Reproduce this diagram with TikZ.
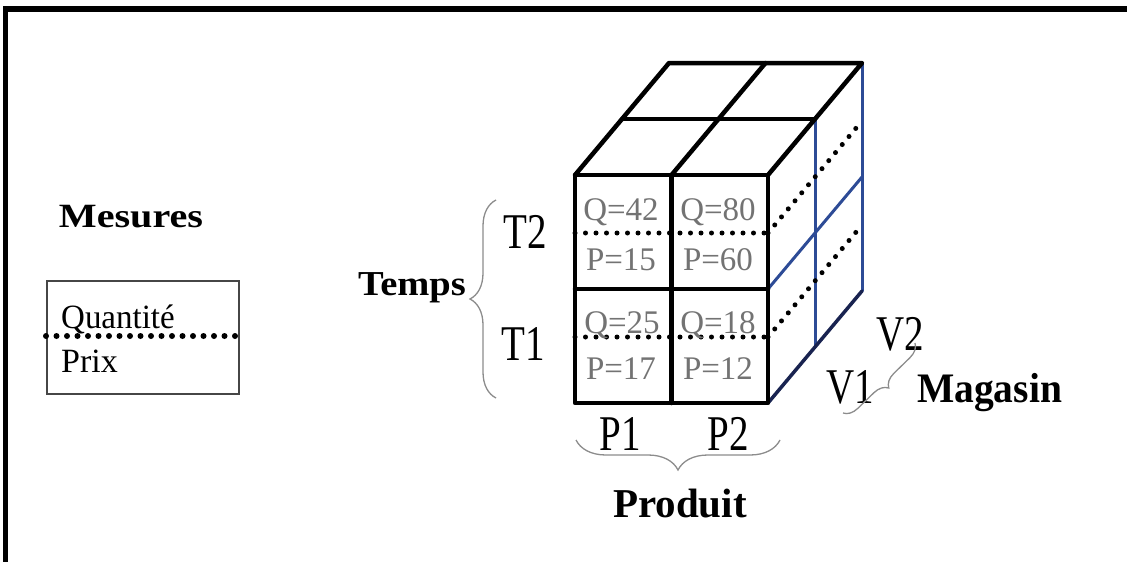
\documentclass[tikz,border=0pt]{standalone}
\usepackage{fontspec}
\setmainfont{Liberation Serif}
\usetikzlibrary{decorations.pathreplacing}
\definecolor{cellgray}{RGB}{115,115,115}
\definecolor{faceblue}{RGB}{45,75,150}
\definecolor{edgenavy}{RGB}{25,35,80}
\definecolor{bracegray}{RGB}{140,140,140}
\definecolor{boxgray}{RGB}{70,70,70}
\begin{document}
\begin{tikzpicture}[x=1pt,y=-1pt,
  lbl/.style={anchor=base, inner sep=0pt},
  heading/.style={lbl, font=\bfseries\fontsize{#1}{#1}\selectfont},
  plain/.style={lbl, font=\fontsize{#1}{#1}\selectfont},
  cell/.style={lbl, text=cellgray, font=\fontsize{33}{33}\selectfont},
  axislbl/.style={lbl, font=\fontsize{50}{50}\selectfont, xscale=0.78},
  thickedge/.style={line width=4.5pt, line join=round, line cap=round},
  blueedge/.style={line width=3pt, draw=faceblue, line cap=round},
  dotline/.style={line width=#1, dash pattern=on 0pt off 10.5pt, line cap=round},
  dotline/.default=5pt,
  bracepath/.style={draw=bracegray, line width=1.3pt, decorate,
     decoration={brace, amplitude=#1}},
]
\useasboundingbox (0,0) rectangle (1127,562);
% frame (top and left only)
\draw[line width=6pt] (3,8.5) -- (1127,8.5);
\draw[line width=5pt] (5.5,6) -- (5.5,562);

% --- Mesures
\node[heading=34, xscale=1.18] (mes) at (131,227) {Mesures};
\node[draw=boxgray, line width=1.5pt, minimum width=192pt, minimum height=113pt, inner sep=0pt, anchor=north west] (mbox) at (46,280) {};
\node[plain=34, anchor=base west, xscale=0.97] (qte) at (61,328) {Quantité};
\node[plain=34, anchor=base west] (prix) at (61,372) {Prix};
\draw[dotline=6pt] (mbox.west |- 0,336) -- (mbox.east |- 0,336);

% --- cube: right face (blue)
\draw[blueedge] (862,63) -- (862,291);
\draw[blueedge] (815,119) -- (815,347);
\draw[blueedge] (768,289) -- (862,177);
\draw[line width=3.5pt, draw=edgenavy, line cap=round] (768,403) -- (862,291);
\draw[dotline] (768,233) -- (862,121);
\draw[dotline] (768,337) -- (862,225);

% top face
\draw[thickedge] (575,175) -- (669,63) -- (862,63) -- (768,175);
\draw[thickedge] (622,119) -- (815,119);
\draw[thickedge] (671.5,175) -- (765.5,63);

% front face
\draw[thickedge] (575,175) rectangle (768,403);
\draw[thickedge] (671.5,175) -- (671.5,403);
\draw[thickedge] (575,289) -- (768,289);
\draw[dotline] (575,233) -- (768,233);
\draw[dotline] (575,337) -- (768,337);

% cell values
\node[cell] (q42) at (621,220) {Q=42};
\node[cell] (q80) at (718,220) {Q=80};
\node[cell] (p15) at (621,270) {P=15};
\node[cell] (p60) at (718,270) {P=60};
\node[cell] (q25) at (622,333) {Q=25};
\node[cell] (q18) at (718,333) {Q=18};
\node[cell] (p17) at (621,379) {P=17};
\node[cell] (p12) at (718,379) {P=12};

% --- Temps
\node[heading=35, xscale=1.1] (temps) at (412,295) {Temps};
\node[axislbl] (t2) at (525,248) {T2};
\node[axislbl] (t1) at (523,360) {T1};
\coordinate (tb) at (496,398);
\coordinate (tt) at (496,200);
\draw[bracepath=26] (tb) -- (tt);

% --- Produit
\node[axislbl] (p1) at (620,450) {P1};
\node[axislbl] (p2) at (728,450) {P2};
\coordinate (pl) at (576,440);
\coordinate (pr) at (780,440);
\draw[bracepath=30] (pr) -- (pl);
\node[heading=41] (prod) at (680,517) {Produit};

% --- Magasin
\node[axislbl] (v2) at (900,350) {V2};
\node[axislbl] (v1) at (850,403) {V1};
\coordinate (vb) at (843,413);
\coordinate (vt) at (915,343);
\draw[bracepath=14] (vt) -- (vb);
\node[heading=42, xscale=0.94, anchor=base west] (mag) at (917,402) {Magasin};
\end{tikzpicture}
\end{document}
